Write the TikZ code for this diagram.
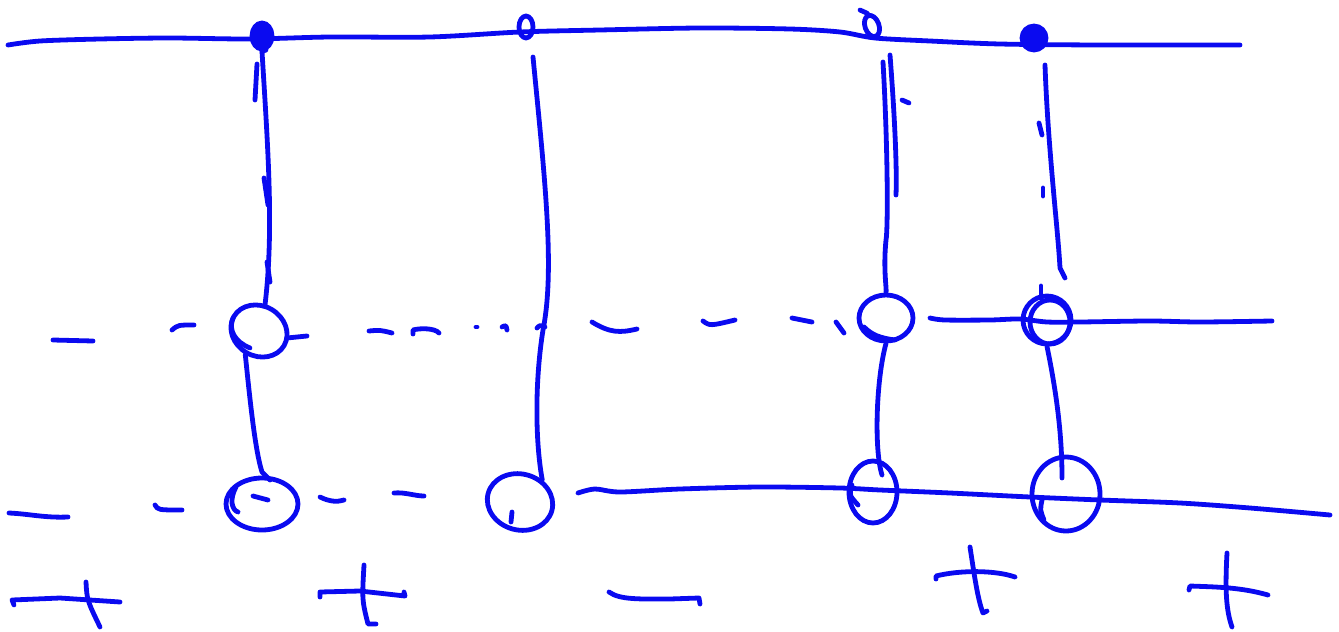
\documentclass[tikz,border=0pt]{standalone}
\usetikzlibrary{shapes.geometric}
\definecolor{ink}{RGB}{10,10,240}
\tikzset{
  pen/.style={draw=ink, line width=4.8pt, line cap=round, line join=round},
  ring/.style={pen, ellipse, inner sep=0pt},
  knotdot/.style={pen, fill=ink, ellipse, inner sep=0pt, minimum width=20pt, minimum height=26pt},
  knotloop/.style={pen, ellipse, inner sep=0pt, minimum width=14pt, minimum height=22pt},
}
\begin{document}
\begin{tikzpicture}[x=1pt,y=-1pt]
\useasboundingbox (0,0) rectangle (1339,632);

% top rail
\draw[pen] plot[smooth] coordinates {(8,45) (40,41) (100,39) (170,38) (250,39) (330,37) (430,37) (520,32) (600,30) (700,28) (790,29) (840,32) (875,38) (930,41) (1000,44) (1100,45) (1240,45)};

% knots on top rail
\node[knotdot]  (kA) at (262,36) {};
\draw[pen] (kA.south) -- (266,50);
\node[knotloop] (kB) at (526,27) {};
\node[knotloop, rotate=20] (kC) at (872,26) {};
\draw[pen] (kC.north) -- (860,10);
\node[knotdot, minimum width=24pt, minimum height=24pt] (kD) at (1034,38) {};

% middle rings
\node[ring, minimum width=58pt, minimum height=50pt, rotate=-30] (m1) at (259,331) {};
\draw[pen] (233,318) .. controls (228,330) and (235,342) .. (250,348);
\node[ring, minimum width=54pt, minimum height=46pt] (m2) at (886,318) {};
\draw[pen] (864,327) .. controls (872,335) and (880,338) .. (895,340);
\node[ring, minimum width=48pt, minimum height=48pt] (m3) at (1047,320) {};
\node[ring, minimum width=40pt, minimum height=44pt] (m3b) at (1050,322) {};

% bottom rings
\node[ring, minimum width=72pt, minimum height=52pt] (b1) at (262,504) {};
\node[ring, minimum width=66pt, minimum height=56pt, rotate=-15] (b2) at (520,502) {};
\draw[pen] (512,512) -- (511,522);
\node[ring, minimum width=48pt, minimum height=62pt] (b3) at (873,492) {};
\draw[pen] (852,485) .. controls (849,495) .. (858,505);
\node[ring, minimum width=68pt, minimum height=74pt] (b4) at (1066,494) {};
\draw[pen] (1042,500) .. controls (1040,510) .. (1044,520);

% vertical line 1 (top to middle)
\draw[pen] (kA.south) .. controls (268,150) and (274,230) .. (265,305);
\draw[pen] (257,64) -- (255,100);
\draw[pen] (264,178) -- (268,205);
\draw[pen] (267,262) -- (270,282);
% vertical line 1 (middle to bottom)
\draw[pen] (m1.south) .. controls (250,400) and (255,450) .. (262,472) -- (270,480);
\draw[pen] (236,487) .. controls (229,500) and (232,510) .. (238,512);
\draw[pen] (253,496) -- (268,500);

% vertical line 2
\draw[pen] (533,57) .. controls (545,180) and (555,270) .. (543,330) .. controls (535,380) and (535,440) .. (b2.60);

% vertical line 3 (double stroke)
\draw[pen] (883,62) .. controls (888,150) and (888,230) .. (886,240) .. controls (883,270) and (887,290) .. (m2.north);
\draw[pen] (890,55) .. controls (895,120) and (897,170) .. (896,195);
\draw[pen] (902,100) -- (909,103);
% vertical line 3 (middle to bottom)
\draw[pen] (m2.south) .. controls (876,380) and (874,450) .. (882,475);

% vertical line 4
\draw[pen] (1045,65) .. controls (1048,150) and (1058,230) .. (1060,268) -- (1065,278);
\draw[pen] (1039,123) -- (1042,135);
\draw[pen] (1043,188) -- (1043,196);
\draw[pen] (1041,286) -- (1041,298);
% vertical line 4 (middle to bottom)
\draw[pen] (m3.south) .. controls (1058,400) and (1062,440) .. (1062,478);

% middle row dashes
\draw[pen] (53,340) -- (93,341);
\draw[pen] (172,330) .. controls (178,325) .. (194,325);
\draw[pen] (287,338) -- (307,336);
\draw[pen] (369,331) .. controls (380,330) .. (392,333);
\draw[pen] (413,334) -- (413,330) .. controls (420,328) and (435,328) .. (439,333);
\draw[pen] (476,327) -- (477,327);
\draw[pen] (502,327) .. controls (506,325) .. (507,330);
\draw[pen] (537,328) .. controls (540,325) .. (545,327);
\draw[pen] (592,322) .. controls (610,333) and (620,333) .. (637,329);
\draw[pen] (703,321) .. controls (710,326) .. (735,320);
\draw[pen] (792,318) -- (812,322);
\draw[pen] (836,322) -- (844,333);
% middle row solid right part
\draw[pen] plot[smooth] coordinates {(930,318) (945,320) (990,320) (1020,319) (1047,322) (1080,322) (1150,321) (1200,322) (1272,321)};

% bottom row dashes
\draw[pen] (9,513) .. controls (30,514) and (45,518) .. (68,517);
\draw[pen] (155,505) .. controls (158,510) .. (182,510);
\draw[pen] (320,497) .. controls (330,502) and (338,502) .. (344,500);
\draw[pen] (394,493) .. controls (405,492) and (415,496) .. (424,496);
% bottom row solid right part
\draw[pen] plot[smooth] coordinates {(578,493) (595,489) (620,492) (680,489) (760,487) (840,488) (880,490) (950,493) (1030,497) (1100,500) (1180,503) (1250,508) (1330,515)};

% signs below
\draw[pen] (14,605) -- (12,600) -- (60,598) -- (120,602);
\draw[pen] (86,582) .. controls (87,600) .. (100,627);
\draw[pen] (320,597) -- (320,592) -- (360,591) -- (405,596) -- (404,592);
\draw[pen] (364,565) .. controls (362,600) .. (368,624) -- (376,624);
\draw[pen] (609,592) .. controls (620,600) and (640,599) .. (670,599) -- (699,598) -- (700,604);
\draw[pen] (936,579) -- (936,576) .. controls (960,570) and (995,570) .. (1015,577);
\draw[pen] (970,547) .. controls (975,580) and (978,600) .. (983,613) -- (987,611);
\draw[pen] (1189,590) -- (1190,586) .. controls (1215,587) and (1240,587) .. (1268,595);
\draw[pen] (1227,553) .. controls (1225,590) and (1226,610) .. (1232,627);
\end{tikzpicture}
\end{document}
